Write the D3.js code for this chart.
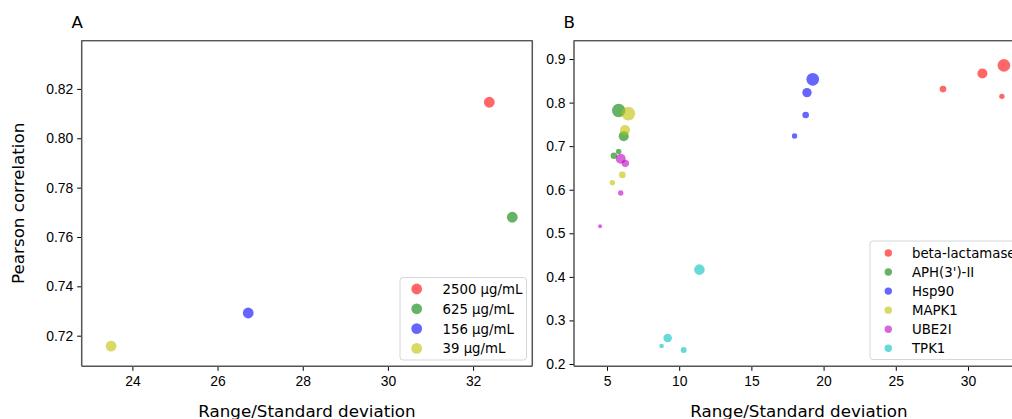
<!DOCTYPE html>
<html>
<head>
<meta charset="utf-8">
<script src="https://cdnjs.cloudflare.com/ajax/libs/d3/7.8.5/d3.min.js"></script>
<style>
  body { margin: 0; background: #fff; }
  svg { font-family: "DejaVu Sans", sans-serif; }
  .tick text { font-size: 13.9px; fill: #000; }
  .tick line { stroke: #000; }
</style>
</head>
<body>
<div id="chart"></div>
<script>
// panel A: one protein at several concentrations
var concLabels = ["2500 µg/mL", "625 µg/mL", "156 µg/mL", "39 µg/mL"];
var concRatio = [32.38, 32.92, 26.72, 23.50];
var concPearson = [0.8146, 0.768, 0.7292, 0.7158];

// panel B: all proteins, four points each
var proteins = ["beta-lactamase", "APH(3')-II", "Hsp90", "MAPK1", "UBE2I", "TPK1"];
var proteinRatio = [
  [28.27, 31.0, 32.49, 32.35],
  [5.81, 6.16, 5.48, 5.81],
  [19.25, 18.85, 18.76, 17.99],
  [6.48, 6.25, 6.06, 5.37],
  [5.95, 6.27, 5.95, 4.52],
  [11.4, 9.2, 10.31, 8.78]
];
var proteinPearson = [
  [0.831, 0.867, 0.8855, 0.8144],
  [0.782, 0.723, 0.678, 0.688],
  [0.8534, 0.8229, 0.7715, 0.7233],
  [0.7747, 0.737, 0.634, 0.6163],
  [0.6713, 0.6606, 0.5925, 0.516],
  [0.4166, 0.2597, 0.2321, 0.2413]
];
var proteinWeight = [
  [11, 25, 40, 7.3],
  [45, 25, 11, 7.3],
  [40, 22, 11, 7.3],
  [46, 25, 11, 7.3],
  [25, 13.7, 7.3, 4],
  [28, 18.5, 9, 5.3]
];

var ticksA_x = [24, 26, 28, 30, 32];
var ticksA_y = [0.72, 0.74, 0.76, 0.78, 0.80, 0.82];
var ticksB_x = [5, 10, 15, 20, 25, 30];
var ticksB_y = [0.2, 0.3, 0.4, 0.5, 0.6, 0.7, 0.8, 0.9];

var colorsA = ["#ff0000", "#008000", "#0000ff", "#bfbf00"];
var colorsB = ["#ff0000", "#008000", "#0000ff", "#bfbf00", "#bf00bf", "#00bfbf"];

var svg = d3.select("#chart").append("svg")
  .attr("width", 1012)
  .attr("height", 419);

ScatterPanel = function(_svg, opts) {
  this.svg = _svg;
  this.opts = opts;
  this.initVis();
  this.updateVis();
};

ScatterPanel.prototype.initVis = function() {
  var vis = this;
  var o = vis.opts;

  vis.xScale = d3.scaleLinear().domain(o.xDomain).range([o.left, o.right]);
  vis.yScale = d3.scaleLinear().domain(o.yDomain).range([o.bottom, o.top]);

  vis.g = vis.svg.append("g");

  vis.g.append("g")
    .attr("class", "x-axis axis")
    .attr("transform", "translate(0," + o.bottom + ")")
    .call(d3.axisBottom(vis.xScale).tickValues(o.xTicks)
      .tickSize(4.5).tickPadding(5).tickFormat(d3.format("d")))
    .call(g => g.select(".domain").remove());

  vis.g.append("g")
    .attr("class", "y-axis axis")
    .attr("transform", "translate(" + o.left + ",0)")
    .call(d3.axisLeft(vis.yScale).tickValues(o.yTicks)
      .tickSize(4.5).tickPadding(4).tickFormat(d3.format(o.yFormat)))
    .call(g => g.select(".domain").remove());

  // spines
  vis.g.append("line")
    .attr("x1", o.left).attr("x2", o.right)
    .attr("y1", o.top + 0.5).attr("y2", o.top + 0.5)
    .attr("stroke", "#111").attr("stroke-width", 1);
  vis.g.append("line")
    .attr("x1", o.left).attr("x2", o.right)
    .attr("y1", o.bottom).attr("y2", o.bottom)
    .attr("stroke", "#555").attr("stroke-width", 1.5);
  vis.g.append("line")
    .attr("x1", o.left).attr("x2", o.left)
    .attr("y1", o.top).attr("y2", o.bottom)
    .attr("stroke", "#555").attr("stroke-width", 1.5);
  vis.g.append("line")
    .attr("x1", o.right).attr("x2", o.right)
    .attr("y1", o.top).attr("y2", o.bottom)
    .attr("stroke", "#555").attr("stroke-width", 1.5);

  vis.g.append("text")
    .text(o.label)
    .attr("x", o.labelX)
    .attr("y", 28)
    .style("font-size", "16.7px");

  vis.g.append("text")
    .text("Range/Standard deviation")
    .attr("x", (o.left + o.right) / 2)
    .attr("y", 417)
    .style("text-anchor", "middle")
    .style("font-size", "16.7px");
};

ScatterPanel.prototype.updateVis = function() {
  var vis = this;
  var o = vis.opts;

  var dots = vis.g.selectAll(".dot")
    .data(o.points);

  dots.enter()
    .append("circle")
    .attr("class", "dot")
    .merge(dots)
    .attr("cx", (d) => vis.xScale(d.x))
    .attr("cy", (d) => vis.yScale(d.y))
    .attr("r", (d) => d.r)
    .attr("fill", (d) => d.color)
    .attr("fill-opacity", 0.6);
  dots.exit().remove();

  // legend
  var lg = vis.g.append("g")
    .attr("transform", "translate(" + o.legend.x + "," + o.legend.y + ")");
  lg.append("rect")
    .attr("width", o.legend.w)
    .attr("height", o.legend.h)
    .attr("rx", 3)
    .attr("fill", "#fff")
    .attr("fill-opacity", 0.8)
    .attr("stroke", "#d6d6d6");

  var rows = lg.selectAll(".legend-row")
    .data(o.legend.labels)
    .enter()
    .append("g")
    .attr("class", "legend-row")
    .attr("transform", (d, i) => "translate(0," + (o.legend.first + i * o.legend.step) + ")");
  rows.append("circle")
    .attr("cx", o.legend.dotX)
    .attr("cy", 0)
    .attr("r", o.legend.r)
    .attr("fill", (d, i) => o.legend.colors[i])
    .attr("fill-opacity", 0.6);
  rows.append("text")
    .attr("x", o.legend.textX)
    .attr("y", 5)
    .text((d) => d)
    .style("font-size", "13.3px");
};

var pointsA = concLabels.map((c, i) => {
  return { x: concRatio[i], y: concPearson[i], r: 5.4, color: colorsA[i] };
});

var sizeScale = d3.scaleSqrt().domain([0, 45]).range([0, 6.7]);
var pointsB = [];
proteins.forEach((p, i) => {
  proteinRatio[i].forEach((v, j) => {
    pointsB.push({
      x: v,
      y: proteinPearson[i][j],
      r: sizeScale(proteinWeight[i][j]),
      color: colorsB[i]
    });
  });
});

var panelA = new ScatterPanel(svg, {
  left: 81.7, right: 532.3, top: 40.3, bottom: 366.3,
  xDomain: [22.81, 33.39], yDomain: [0.7076, 0.8397],
  xTicks: ticksA_x, yTicks: ticksA_y, yFormat: ".2f",
  label: "A", labelX: 71.5,
  points: pointsA,
  legend: {
    x: 400, y: 277.5, w: 126.5, h: 82.5,
    first: 11.5, step: 19.8, dotX: 16.7, textX: 42.5, r: 5.4,
    labels: concLabels, colors: colorsA
  }
});

var panelB = new ScatterPanel(svg, {
  left: 574, right: 1024, top: 40.3, bottom: 366.3,
  xDomain: [2.715, 33.88], yDomain: [0.1947, 0.943],
  xTicks: ticksB_x, yTicks: ticksB_y, yFormat: ".1f",
  label: "B", labelX: 563.5,
  points: pointsB,
  legend: {
    x: 870, y: 241, w: 160, h: 118.5,
    first: 12, step: 19.05, dotX: 18.3, textX: 42, r: 3.7,
    labels: proteins, colors: colorsB
  }
});

// y label only on the first panel
svg.append("text")
  .text("Pearson correlation")
  .attr("transform", "translate(24,203.3) rotate(-90)")
  .style("text-anchor", "middle")
  .style("font-size", "16.7px");
</script>
</body>
</html>
